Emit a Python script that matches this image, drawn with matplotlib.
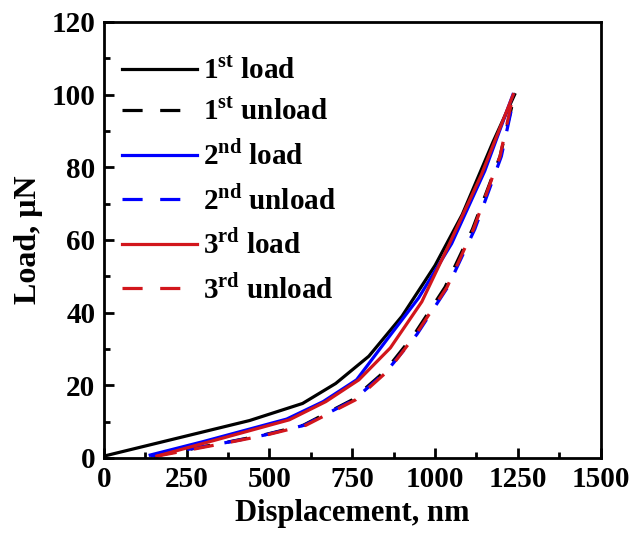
import matplotlib.pyplot as plt
from matplotlib.ticker import MultipleLocator

plt.rcParams["font.family"] = "Liberation Serif"
plt.rcParams["font.weight"] = "bold"
plt.rcParams["mathtext.fontset"] = "custom"
plt.rcParams["mathtext.rm"] = "Liberation Serif:bold"
plt.rcParams["mathtext.bf"] = "Liberation Serif:bold"

# load / unload curves (nm, uN)
x1_load = [0, 440, 600, 700, 800, 900, 968, 1000, 1082, 1175, 1240]
y1_load = [0.5, 10.3, 15, 20.5, 28, 39, 48.5, 53, 67, 87, 100]
x1_unload = [150, 381, 481, 602, 750, 850, 937, 1030, 1113, 1196, 1240]
y1_unload = [0.5, 4.5, 6.3, 9, 16, 24, 34, 47, 63, 83, 100]

x2_load = [140, 300, 552, 662, 763, 854, 950, 1050, 1150, 1235]
y2_load = [0.8, 4.5, 10.7, 15.5, 21.5, 32.5, 44, 59, 79, 100]
x2_unload = [140, 385, 485, 605, 755, 855, 945, 1038, 1120, 1200, 1240]
y2_unload = [0.5, 4.5, 6.3, 9, 16, 24, 34, 47, 63, 83, 100]

x3_load = [160, 320, 560, 670, 770, 865, 960, 1041, 1140, 1236]
y3_load = [0.5, 4.5, 10.5, 15.5, 21.5, 30.3, 43, 58.5, 78, 100]
x3_unload = [160, 390, 490, 610, 760, 858, 942, 1036, 1116, 1196, 1236]
y3_unload = [0.5, 4.5, 6.3, 9, 16, 24, 34, 47, 63, 83, 100]

series = [
    (x1_load, y1_load, "black", "-", r"1$^{\mathbf{st}}$ load"),
    (x1_unload, y1_unload, "black", "--", r"1$^{\mathbf{st}}$ unload"),
    (x2_load, y2_load, "#0000ff", "-", r"2$^{\mathbf{nd}}$ load"),
    (x2_unload, y2_unload, "#0000ff", "--", r"2$^{\mathbf{nd}}$ unload"),
    (x3_load, y3_load, "#d2161c", "-", r"3$^{\mathbf{rd}}$ load"),
    (x3_unload, y3_unload, "#d2161c", "--", r"3$^{\mathbf{rd}}$ unload"),
]

fig = plt.figure(figsize=(6.33, 5.35), dpi=100)
ax = fig.add_axes([0.164, 0.144, 0.785, 0.815])

for x, y, color, ls, label in series:
    if ls == "--":
        ax.plot(x, y, color=color, linewidth=2.3, label=label, dashes=(6.3, 5.5))
    else:
        ax.plot(x, y, color=color, linewidth=2.3, label=label)

ax.set_xlim(0, 1500)
ax.set_ylim(0, 120)
ax.xaxis.set_major_locator(MultipleLocator(250))
ax.xaxis.set_minor_locator(MultipleLocator(125))
ax.yaxis.set_major_locator(MultipleLocator(20))
ax.yaxis.set_minor_locator(MultipleLocator(10))
ax.tick_params(which="both", direction="in", top=False, right=False, width=2)
ax.tick_params(which="major", length=7, labelsize=21, pad=6)
ax.tick_params(which="minor", length=4)
for spine in ax.spines.values():
    spine.set_linewidth(2)

ax.set_xlabel("Displacement, nm", fontsize=22, fontweight="bold", labelpad=4)
ax.set_ylabel("Load, \u03bcN", fontsize=23, fontweight="bold", labelpad=6)

ax.legend(loc="upper left", bbox_to_anchor=(-0.017, 0.978), frameon=False,
          fontsize=21, handlelength=2.6, handletextpad=0.2, labelspacing=0.48)

fig.savefig("out.png", dpi=100)
